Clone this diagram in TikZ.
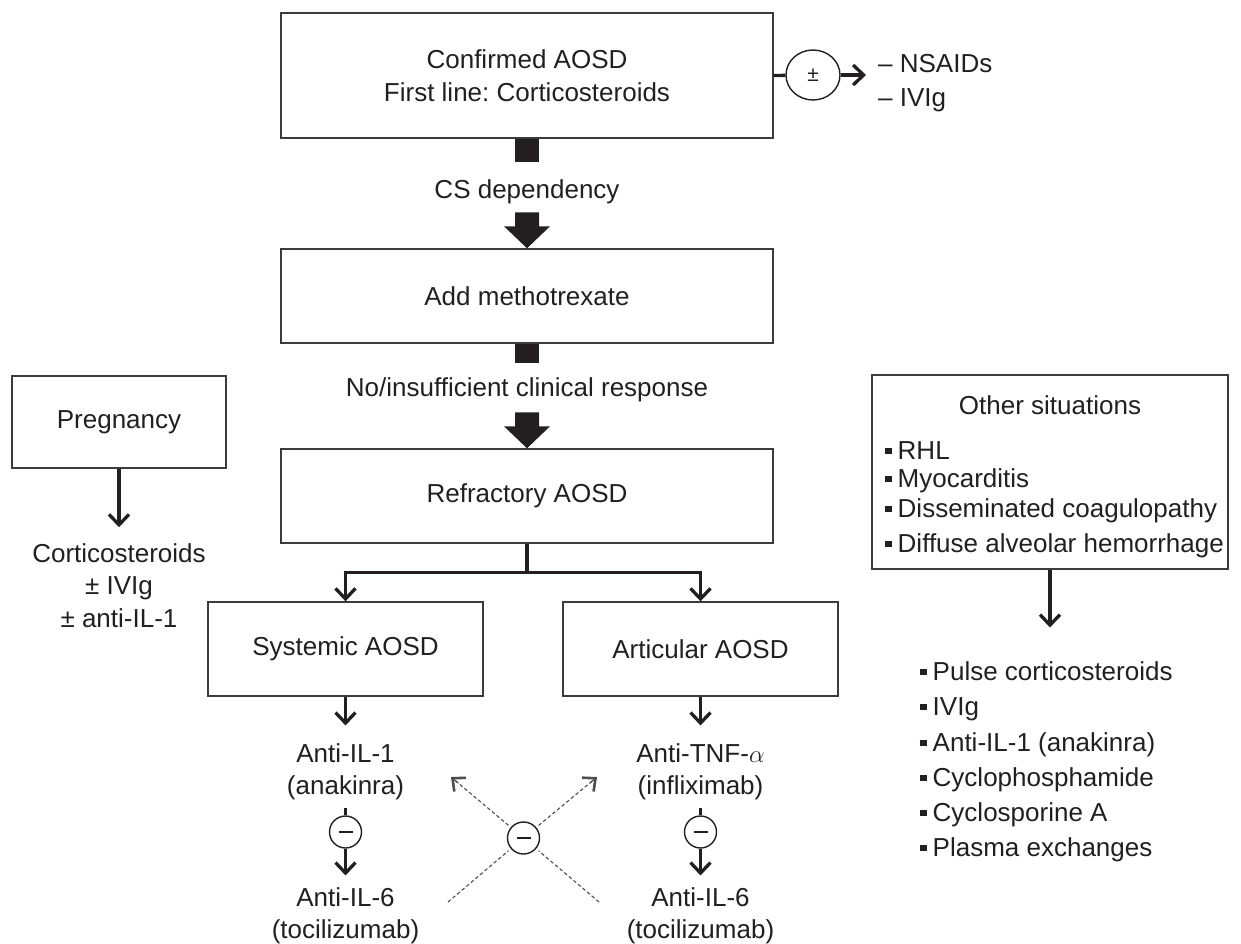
\documentclass[tikz,border=0pt]{standalone}
\usepackage{fontspec}
\setmainfont{Liberation Sans}
\usetikzlibrary{arrows.meta,shapes.geometric,calc}
\definecolor{ink}{RGB}{35,31,32}
\definecolor{frame}{RGB}{60,60,60}
\newcommand\sqbul{\rule[5pt]{6.5pt}{6.5pt}\hspace{6pt}}
\frenchspacing
\begin{document}
\begin{tikzpicture}[x=1pt,y=-1pt,
  every node/.style={text=ink, font=\fontsize{26pt}{32.5pt}\selectfont},
  box/.style={draw=frame, line width=1.4pt, rectangle, inner sep=0pt, align=center},
  conn/.style={draw=ink, line width=3.3pt},
  arr/.style={conn, -{Straight Barb[length=10.5pt,width=20pt]}},
  txt/.style={inner sep=0pt, align=center},
  li/.style={anchor=west, inner sep=0pt, text height=18.6pt, text depth=0pt},
  mcirc/.style={circle, draw=ink, line width=1.4pt, minimum size=32pt, inner sep=0pt, fill=white},
  dsh/.style={draw=ink!80, line width=1.1pt, dash pattern=on 3.5pt off 2.5pt},
  dtip/.style={draw=ink!80, line width=1.1pt, solid, -{Straight Barb[length=10pt,width=18pt,line width=2.6pt]}}
]
\useasboundingbox (0,0) rectangle (1241,944);

% top
\node[box, minimum width=492pt, minimum height=125pt] (top) at (527,75.5) {Confirmed AOSD\\First line: Corticosteroids};
\node[ellipse, draw=ink, line width=1.4pt, minimum width=54pt, minimum height=50pt, inner sep=0pt, font=\fontsize{21pt}{24pt}\selectfont] (pm) at (813,75) {±};
\coordinate (pmtip) at (866,75);
\node[li] (n1) at (878,63) {– NSAIDs};
\node[li] (n2) at (878,97) {– IVIg};
\draw[conn] (top.east) -- (pm);
\draw[arr] (pm) -- (pmtip);

% CS dependency
\fill[ink] ($(top.south)+(-12,0)$) rectangle ($(top.south)+(12,23)$);
\node[txt] (csd) at (527,192) {CS dependency};
\node[box, minimum width=492pt, minimum height=94pt] (mtx) at (527,296) {Add methotrexate};
\fill[ink] ($(mtx.north)+(-12,-36)$) -- ($(mtx.north)+(12,-36)$) -- ($(mtx.north)+(12,-22)$) -- ($(mtx.north)+(23,-22)$) -- (mtx.north) -- ($(mtx.north)+(-23,-22)$) -- ($(mtx.north)+(-12,-22)$) -- cycle;

% No response
\fill[ink] ($(mtx.south)+(-12,0)$) rectangle ($(mtx.south)+(12,19)$);
\node[txt] (nir) at (527,390) {No/insufficient clinical response};
\node[box, minimum width=492pt, minimum height=94pt] (ref) at (527,496) {Refractory AOSD};
\fill[ink] ($(ref.north)+(-12,-36)$) -- ($(ref.north)+(12,-36)$) -- ($(ref.north)+(12,-22)$) -- ($(ref.north)+(23,-22)$) -- (ref.north) -- ($(ref.north)+(-23,-22)$) -- ($(ref.north)+(-12,-22)$) -- cycle;

% branches
\node[box, minimum width=275pt, minimum height=94pt] (sys) at (345.5,649) {Systemic AOSD};
\node[box, minimum width=275pt, minimum height=94pt] (art) at (700.5,649) {Articular AOSD};
\coordinate (br) at ($(ref.south)+(0,29)$);
\draw[conn] (ref.south) -- (br);
\draw[arr] (br) -| (sys.north);
\draw[arr] (br) -| (art.north);

% systemic column
\node[txt] (a1) at (345.5,772) {Anti-IL-1\\(anakinra)};
\node[mcirc] (m1) at (345.5,832) {\rule{14pt}{1.8pt}};
\node[txt] (b6) at (345.5,916) {Anti-IL-6\\(tocilizumab)};
\draw[arr, shorten >=18pt] (sys) -- (a1);
\draw[conn, shorten <=7pt] (a1) -- (m1);
\draw[arr, shorten >=12pt] (m1) -- (b6);

% articular column
\node[txt] (t1) at (700.5,772) {Anti-TNF-$\alpha$\\(infliximab)};
\node[mcirc] (m2) at (700.5,832) {\rule{14pt}{1.8pt}};
\node[txt] (c6) at (700.5,916) {Anti-IL-6\\(tocilizumab)};
\draw[arr, shorten >=18pt] (art) -- (t1);
\draw[conn, shorten <=7pt] (t1) -- (m2);
\draw[arr, shorten >=12pt] (m2) -- (c6);

% crossing
\node[mcirc] (mc) at (523.5,838) {\rule{14pt}{1.8pt}};
\coordinate (dl1) at (448,902);
\coordinate (dl2) at (451,777);
\coordinate (dr2) at (597,777);
\coordinate (dr1) at (599,902);
\draw[dsh, shorten >=3pt] (dl1) -- (mc);
\draw[dsh, shorten >=3pt] (dr1) -- (mc);
\draw[dsh, shorten <=3pt, shorten >=4pt] (mc) -- (dl2);
\draw[dsh, shorten <=3pt, shorten >=4pt] (mc) -- (dr2);
\draw[dtip] ($(mc)!0.9!(dl2)$) -- (dl2);
\draw[dtip] ($(mc)!0.9!(dr2)$) -- (dr2);

% pregnancy
\node[box, minimum width=214pt, minimum height=92pt] (preg) at (119,422) {Pregnancy};
\node[txt] (cort) at (119,585.5) {Corticosteroids\\± IVIg\\± anti-IL-1};
\draw[arr, shorten >=16pt] (preg) -- (cort);

% other situations
\node[box, minimum width=356pt, minimum height=194pt] (os) at (1050,472) {};
\node[txt] (ost) at (1050,405) {Other situations};
\node[li] (o1) at (885,450) {\sqbul RHL};
\node[li] (o2) at (885,478) {\sqbul Myocarditis};
\node[li] (o3) at (885,508) {\sqbul Disseminated coagulopathy};
\node[li] (o4) at (885,543) {\sqbul Diffuse alveolar hemorrhage};

\node[li] (l1) at (920,671) {\sqbul Pulse corticosteroids};
\node[li] (l2) at (920,706) {\sqbul IVIg};
\node[li] (l3) at (920,742) {\sqbul Anti-IL-1 (anakinra)};
\node[li] (l4) at (920,777) {\sqbul Cyclophosphamide};
\node[li] (l5) at (920,812) {\sqbul Cyclosporine A};
\node[li] (l6) at (920,847) {\sqbul Plasma exchanges};
\draw[arr, shorten >=34pt] (os.south) -- (os.south |- l1.north);
\end{tikzpicture}
\end{document}
